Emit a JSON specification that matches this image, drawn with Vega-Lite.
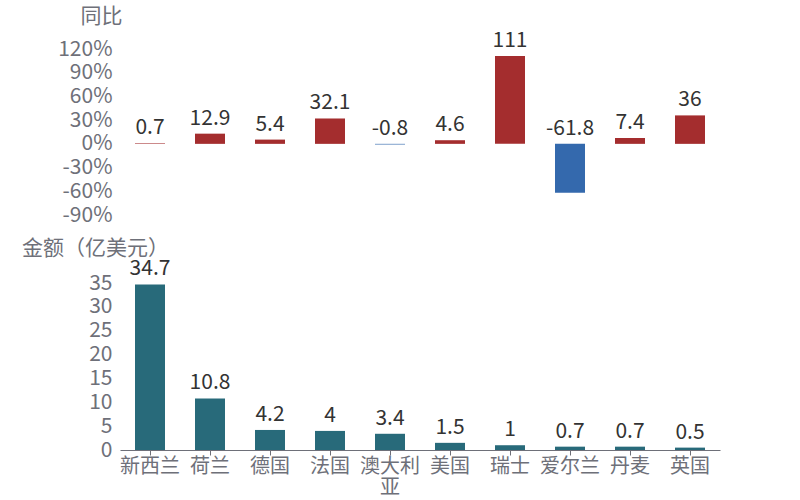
{
  "$schema": "https://vega.github.io/schema/vega-lite/v6.json",
  "padding": {"left": 21, "top": 5, "right": 5, "bottom": 2},
  "background": "white",
  "config": {
    "font": "Noto Sans CJK SC",
    "view": {"stroke": null},
    "axis": {"labelFont": "Noto Sans CJK SC", "titleFont": "Noto Sans CJK SC", "labelColor": "#6e7079", "titleColor": "#6e7079", "labelFontSize": 21, "titleFontSize": 21, "titleFontWeight": "normal", "grid": false, "labelOverlap": false},
    "axisY": {"labelOverlap": false},
    "axisQuantitative": {"labelOverlap": false}
  },
  "data": {
    "values": [
      {"country": "新西兰", "amount": 34.7, "yoy": 0.7},
      {"country": "荷兰", "amount": 10.8, "yoy": 12.9},
      {"country": "德国", "amount": 4.2, "yoy": 5.4},
      {"country": "法国", "amount": 4, "yoy": 32.1},
      {"country": "澳大利亚", "amount": 3.4, "yoy": -0.8},
      {"country": "美国", "amount": 1.5, "yoy": 4.6},
      {"country": "瑞士", "amount": 1, "yoy": 111},
      {"country": "爱尔兰", "amount": 0.7, "yoy": -61.8},
      {"country": "丹麦", "amount": 0.7, "yoy": 7.4},
      {"country": "英国", "amount": 0.5, "yoy": 36}
    ]
  },
  "vconcat": [
    {
      "width": 600,
      "height": 166,
      "encoding": {
        "x": {"field": "country", "type": "nominal", "sort": null, "axis": null, "scale": {"paddingInner": 0.5, "paddingOuter": 0.25}},
        "y": {"field": "yoy", "type": "quantitative", "scale": {"domain": [-90, 120], "nice": false},
          "axis": {"values": [-90, -60, -30, 0, 30, 60, 90, 120], "labelOverlap": false, "labelBound": false, "labelFlush": false, "labelExpr": "datum.value + '%'", "domain": false, "ticks": false, "labelPadding": 8, "title": "同比", "titleAngle": 0, "titleAlign": "center", "titleBaseline": "middle", "titleX": -19, "titleY": -33}}
      },
      "layer": [
        {
          "mark": {"type": "bar"},
          "encoding": {
            "y2": {"datum": 0},
            "color": {"condition": {"test": "datum.yoy < 0", "value": "#3469ad"}, "value": "#a42d2e"}
          }
        },
        {
          "transform": [{"filter": "datum.yoy >= 0"}],
          "mark": {"type": "text", "baseline": "bottom", "dy": -5, "fontSize": 21, "color": "#333333"},
          "encoding": {
            "text": {"field": "yoy", "type": "nominal"}
          }
        },
        {
          "transform": [{"filter": "datum.yoy < 0"}],
          "mark": {"type": "text", "baseline": "bottom", "dy": -5, "fontSize": 21, "color": "#333333"},
          "encoding": {
            "y": {"datum": 0, "type": "quantitative"},
            "text": {"field": "yoy", "type": "nominal"}
          }
        }
      ]
    },
    {
      "width": 600,
      "height": 167,
      "encoding": {
        "x": {"field": "country", "type": "nominal", "sort": null, "scale": {"paddingInner": 0.5, "paddingOuter": 0.25},
          "axis": {"title": null, "labelAngle": 0, "labelFontSize": 20, "labelOverlap": false, "domainColor": "#6e7079", "tickColor": "#6e7079", "tickSize": 5, "labelPadding": 1, "labelLineHeight": 21, "labelExpr": "datum.label == '澳大利亚' ? ['澳大利', '亚'] : datum.label"}},
        "y": {"field": "amount", "type": "quantitative", "scale": {"domain": [0, 35], "nice": false},
          "axis": {"values": [0, 5, 10, 15, 20, 25, 30, 35], "labelOverlap": false, "labelBound": false, "labelFlush": false, "domain": false, "ticks": false, "labelPadding": 8, "title": "金额（亿美元）", "titleAngle": 0, "titleAlign": "center", "titleBaseline": "middle", "titleX": -25, "titleY": -35}}
      },
      "layer": [
        {
          "mark": {"type": "bar", "color": "#286a7a"}
        },
        {
          "mark": {"type": "text", "baseline": "bottom", "dy": -5, "fontSize": 21, "color": "#333333"},
          "encoding": {
            "text": {"field": "amount", "type": "nominal"}
          }
        }
      ]
    }
  ],
  "spacing": 68,
  "bounds": "flush"
}
